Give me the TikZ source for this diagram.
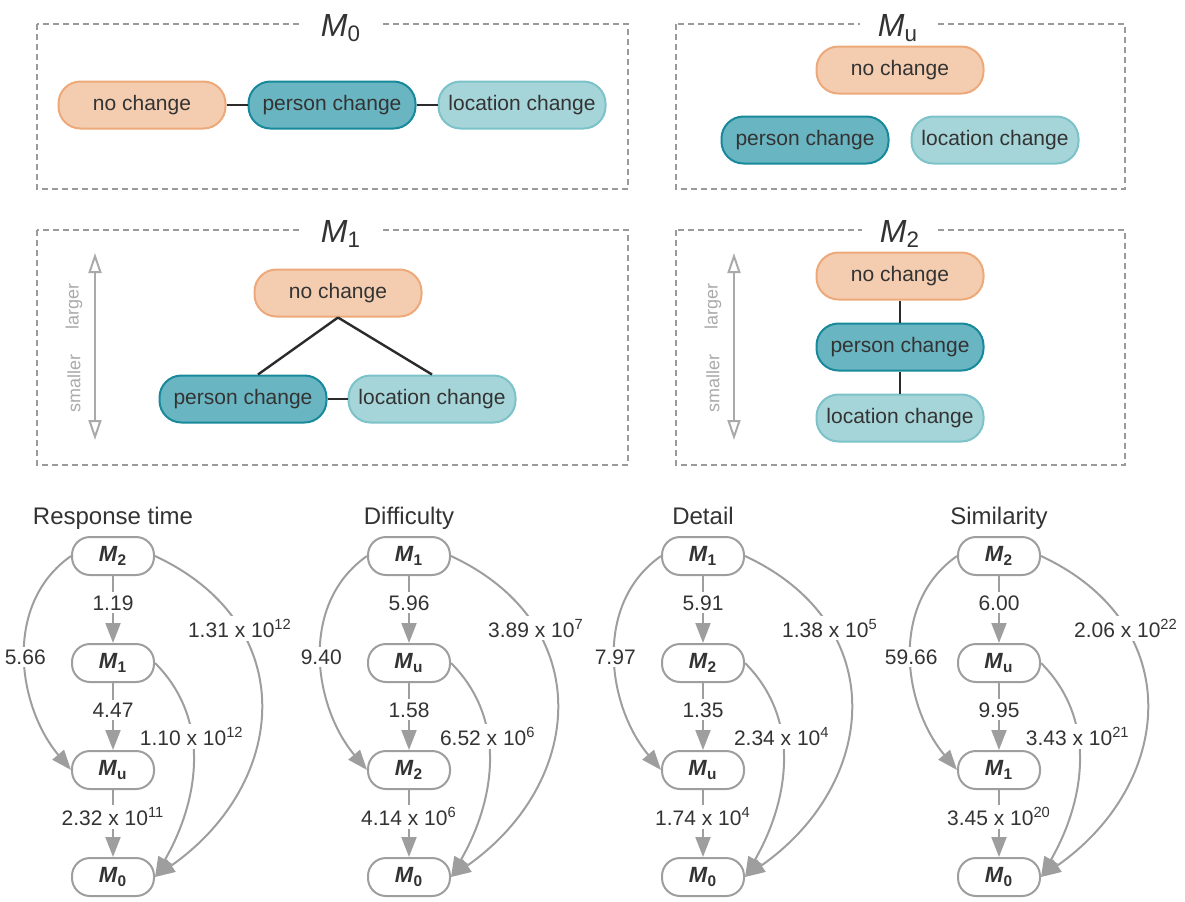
\documentclass[tikz,border=0pt]{standalone}
\usepackage{fontspec}
\setmainfont{Liberation Sans}
\usetikzlibrary{arrows.meta}

\definecolor{txtgray}{HTML}{333333}
\definecolor{framegray}{HTML}{9A9A9A}
\definecolor{edgegray}{HTML}{9E9E9E}
\definecolor{arrgray}{HTML}{AAAAAA}
\definecolor{linkblack}{HTML}{2B2B2B}
\definecolor{nochfill}{HTML}{F4CDB0}
\definecolor{nochdraw}{HTML}{EDA97A}
\definecolor{persfill}{HTML}{6AB5C2}
\definecolor{persdraw}{HTML}{17899A}
\definecolor{locfill}{HTML}{A6D5D9}
\definecolor{locdraw}{HTML}{7CC2C9}

\newcommand{\mname}[1]{\textit{M}\textsubscript{#1}}
\newcommand{\mbold}[1]{\textbf{\textit{M}\textsubscript{#1}}}

\begin{document}
\begin{tikzpicture}[x=0.5pt,y=0.5pt,
    font=\fontsize{10.5}{12}\selectfont, text=txtgray,
    frame/.style={draw=framegray, line width=0.75pt, dash pattern=on 3pt off 2pt},
    frametitle/.style={fill=white, inner xsep=9pt, inner ysep=1pt, anchor=base, font=\fontsize{16}{18}\selectfont},
    pill/.style={rounded corners=11pt, minimum width=83.5pt, minimum height=23.5pt, line width=1pt, inner sep=0pt},
    nochange/.style={pill, fill=nochfill, draw=nochdraw},
    perschange/.style={pill, fill=persfill, draw=persdraw},
    locchange/.style={pill, fill=locfill, draw=locdraw},
    link/.style={draw=linkblack, line width=1.2pt},
    scalearrow/.style={draw=arrgray, line width=1pt, {Triangle[open,length=10pt,width=6.5pt]}-{Triangle[open,length=10pt,width=6.5pt]}},
    scaletext/.style={text=arrgray, rotate=90, font=\fontsize{9}{10}\selectfont},
    mnode/.style={draw=edgegray, fill=white, line width=1pt, rounded corners=9pt, minimum width=41pt, minimum height=19pt, inner sep=0pt, font=\fontsize{11}{13}\selectfont},
    coltitle/.style={anchor=base, font=\fontsize{12}{14}\selectfont},
    bf/.style={draw=edgegray, line width=1pt, -{Triangle[length=10pt,width=7.5pt]}},
    bflabel/.style={fill=white, inner sep=1.5pt, font=\fontsize{10.5}{12}\selectfont}]
  \useasboundingbox (0,0) rectangle (1185,-901);

  % M0
  \draw[frame] (37,-24) rectangle (628,-189);
  \node[frametitle] (t0) at (341,-36) {\mname{0}};
  \node[nochange] (n0) at (142,-105) {no change};
  \node[perschange] (p0) at (332,-105) {person change};
  \node[locchange] (l0) at (522,-105) {location change};
  \draw[link] (n0) -- (p0);
  \draw[link] (p0) -- (l0);

  % Mu
  \draw[frame] (676,-24) rectangle (1125,-189);
  \node[frametitle] (tu) at (898,-36) {\mname{u}};
  \node[nochange] (nu) at (900,-70) {no change};
  \node[perschange] (pu) at (805,-140) {person change};
  \node[locchange] (lu) at (995,-140) {location change};

  % M1
  \draw[frame] (37,-230) rectangle (628,-465);
  \node[frametitle] (t1) at (341,-242) {\mname{1}};
  \draw[scalearrow] (95,-440) -- (95,-253);
  \node[scaletext] (lg1) at (74,-306) {larger};
  \node[scaletext] (sm1) at (74,-383) {smaller};
  \node[nochange] (n1) at (338,-293) {no change};
  \node[perschange] (p1) at (243,-399) {person change};
  \node[locchange] (l1) at (432,-399) {location change};
  \draw[link] (n1.south) -- ([xshift=7.5pt]p1.north);
  \draw[link] (n1.south) -- (l1.north);
  \draw[link] (p1) -- (l1);

  % M2
  \draw[frame] (676,-230) rectangle (1125,-465);
  \node[frametitle] (t2) at (900,-242) {\mname{2}};
  \draw[scalearrow] (734,-440) -- (734,-253);
  \node[scaletext] (lg2) at (713,-306) {larger};
  \node[scaletext] (sm2) at (713,-383) {smaller};
  \node[nochange] (n2) at (900,-276) {no change};
  \node[perschange] (p2) at (900,-347) {person change};
  \node[locchange] (l2) at (900,-418) {location change};
  \draw[link] (n2) -- (p2);
  \draw[link] (p2) -- (l2);

  % Bayes factors per measure
  \foreach \cx/\ttl/\ma/\mb/\mc/\lab/\lbc/\lcd/\lac/\lbd/\lad [count=\k] in {
      113/Response time/2/1/u/1.19/4.47/2.32 x 10\textsuperscript{11}/5.66/1.10 x 10\textsuperscript{12}/1.31 x 10\textsuperscript{12},
      409/Difficulty/1/u/2/5.96/1.58/4.14 x 10\textsuperscript{6}/9.40/6.52 x 10\textsuperscript{6}/3.89 x 10\textsuperscript{7},
      703/Detail/1/2/u/5.91/1.35/1.74 x 10\textsuperscript{4}/7.97/2.34 x 10\textsuperscript{4}/1.38 x 10\textsuperscript{5},
      999/Similarity/2/u/1/6.00/9.95/3.45 x 10\textsuperscript{20}/59.66/3.43 x 10\textsuperscript{21}/2.06 x 10\textsuperscript{22}}
  {
    \node[coltitle] (ttl\k) at (\cx,-524) {\ttl};
    \node[mnode] (a\k) at (\cx,-556) {\mbold{\ma}};
    \node[mnode] (b\k) at (\cx,-663) {\mbold{\mb}};
    \node[mnode] (c\k) at (\cx,-770) {\mbold{\mc}};
    \node[mnode] (d\k) at (\cx,-877) {\mbold{0}};
    \draw[bf] (a\k) -- node[bflabel, pos=0.4] {\lab} (b\k);
    \draw[bf] (b\k) -- node[bflabel, pos=0.4] {\lbc} (c\k);
    \draw[bf] (c\k) -- node[bflabel, pos=0.4] {\lcd} (d\k);
    \draw[bf] (a\k.west) to[out=215, in=130] node[bflabel] {\lac} (c\k.west);
    \draw[bf] (b\k.east) to[out=-45, in=60] node[bflabel, pos=0.37] {\lbd} (d\k.east);
    \draw[bf] (a\k.east) to[out=-25, in=35, looseness=1.3] node[bflabel, pos=0.27] {\lad} (d\k.east);
  }
\end{tikzpicture}
\end{document}
